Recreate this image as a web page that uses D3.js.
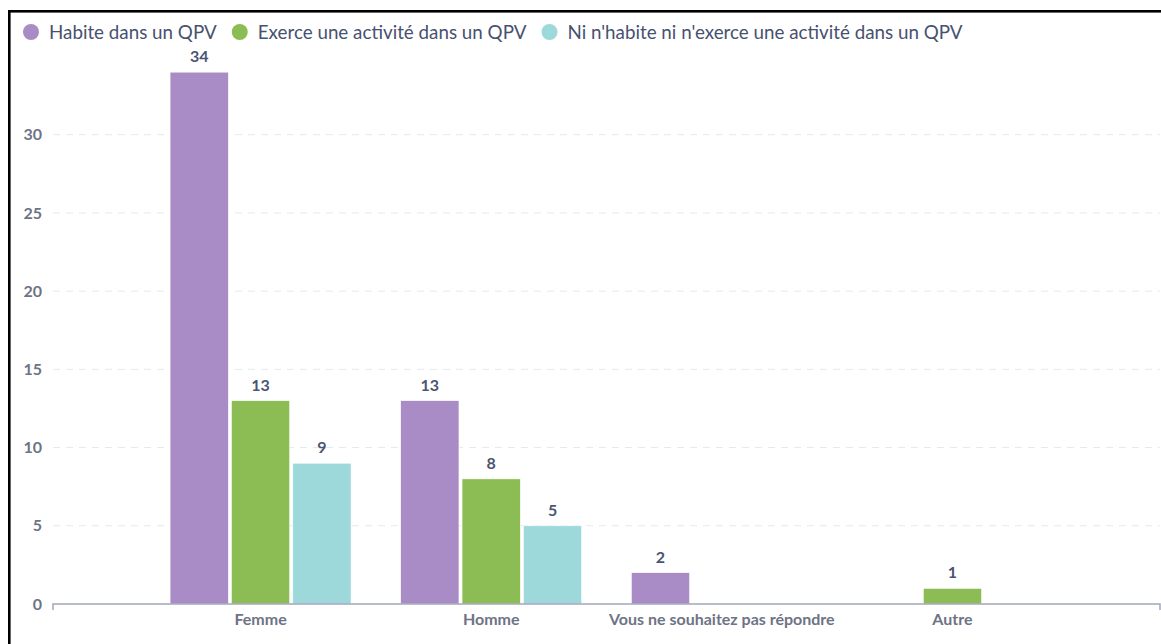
<!DOCTYPE html>
<html>
<head>
<meta charset="utf-8">
<script src="https://cdn.jsdelivr.net/npm/d3@7"></script>
<style>
body { margin: 0; background: #fff; font-family: Lato, sans-serif; }
</style>
</head>
<body>
<script>
var width = 1161;
var height = 644;

var categories = ["Femme", "Homme", "Vous ne souhaitez pas répondre", "Autre"];
var series = ["Habite dans un QPV", "Exerce une activité dans un QPV", "Ni n'habite ni n'exerce une activité dans un QPV"];
var colors = ["#a98bc5", "#8bbd54", "#9dd9db"];
var habite = [34, 13, 2, 0];
var exerce = [13, 8, 0, 1];
var ni = [9, 5, 0, 0];
var yTicks = [0, 5, 10, 15, 20, 25, 30];

var values = [habite, exerce, ni];

var svg = d3.select("body")
    .append("svg")
    .attr("width", width)
    .attr("height", height);

// frame
svg.append("rect")
    .attr("x", 9.3)
    .attr("y", 11.3)
    .attr("width", 1300)
    .attr("height", 800)
    .attr("fill", "none")
    .attr("stroke", "#000")
    .attr("stroke-width", 2.6);

var x = d3.scaleBand()
    .domain(categories)
    .range([53, 1160])
    .paddingInner(0)
    .paddingOuter(0.4);

var xs = d3.scaleBand()
    .domain(series)
    .range([-90.5, 90.5])
    .paddingInner(0.05);

var y = d3.scaleLinear()
    .domain([0, 35])
    .range([604, 56.5]);

// grid
svg.append("g")
    .selectAll("line")
    .data(yTicks.filter(function(d) { return d > 0; }))
    .enter()
    .append("line")
    .attr("x1", 53)
    .attr("x2", 1160)
    .attr("y1", function(d) { return y(d); })
    .attr("y2", function(d) { return y(d); })
    .attr("stroke", "#e6e8ec")
    .attr("stroke-width", 1)
    .attr("stroke-dasharray", "7,6");

// y tick labels
svg.append("g")
    .selectAll("text")
    .data(yTicks)
    .enter()
    .append("text")
    .attr("x", 42)
    .attr("y", function(d) { return y(d); })
    .attr("dy", "0.35em")
    .attr("text-anchor", "end")
    .attr("fill", "#6e7385")
    .attr("font-size", 16)
    .attr("font-weight", "bold")
    .text(function(d) { return d; });

// bars
var groups = svg.append("g")
    .selectAll("g")
    .data(series)
    .enter()
    .append("g")
    .attr("fill", function(d, i) { return colors[i]; });

groups.each(function(s, si) {
    var g = d3.select(this);
    var data = categories.map(function(c, ci) { return { cat: c, v: values[si][ci] }; })
        .filter(function(d) { return d.v > 0; });

    g.selectAll("rect")
        .data(data)
        .enter()
        .append("rect")
        .attr("x", function(d) { return x(d.cat) + x.bandwidth() / 2 + xs(s); })
        .attr("width", xs.bandwidth())
        .attr("y", function(d) { return y(d.v); })
        .attr("height", function(d) { return y(0) - y(d.v); })
        .attr("stroke", "#fff")
        .attr("stroke-width", 0.6);

    g.selectAll("text")
        .data(data)
        .enter()
        .append("text")
        .attr("x", function(d) { return x(d.cat) + x.bandwidth() / 2 + xs(s) + xs.bandwidth() / 2; })
        .attr("y", function(d) { return y(d.v) - 10; })
        .attr("text-anchor", "middle")
        .attr("fill", "#4b5573")
        .attr("font-size", 16)
        .attr("font-weight", "bold")
        .text(function(d) { return d.v; });
});

// x axis
var axis = svg.append("g")
    .attr("transform", "translate(0,604)")
    .call(d3.axisBottom(x).tickSize(0).tickPadding(10));

axis.select(".domain")
    .attr("d", "M53,6V0H1160V6")
    .attr("stroke", "#a3a7ba")
    .attr("stroke-width", 1.5);

axis.selectAll("text")
    .attr("fill", "#6e7385")
    .attr("font-size", 16)
    .attr("font-weight", "bold")
    .attr("font-family", "Lato, sans-serif");

// legend, laid out one after another
var legend = svg.append("g")
    .selectAll("g")
    .data(series)
    .enter()
    .append("g");

legend.append("circle")
    .attr("r", 8)
    .attr("fill", function(d, i) { return colors[i]; });

legend.append("text")
    .attr("x", 18)
    .attr("dy", "0.35em")
    .attr("fill", "#475170")
    .attr("font-size", 18.8)
    .text(function(d) { return d; });

var lx = 31;
legend.each(function() {
    var g = d3.select(this);
    g.attr("transform", "translate(" + lx + ",32)");
    lx += 18 + g.select("text").node().getComputedTextLength() + 15 + 8;
});
</script>
</body>
</html>
